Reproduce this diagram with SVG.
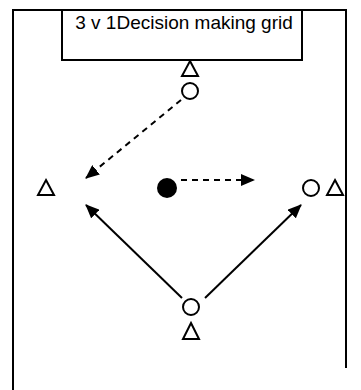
<svg xmlns="http://www.w3.org/2000/svg" width="361" height="390" viewBox="0 0 361 390">
<defs>
<style>
.ln{stroke:#000;stroke-width:2;fill:none}
.sym{stroke:#000;stroke-width:2;fill:#fff}
.dash{stroke-dasharray:6,5}
.t{font-family:"Liberation Sans",Arial,sans-serif;font-size:19px;fill:#000}
</style>
<marker id="ah" viewBox="0 0 14 12" refX="13" refY="6" markerWidth="7" markerHeight="6" orient="auto" markerUnits="strokeWidth">
<path d="M0,0 L14,6 L0,12 Z" fill="#000"/>
</marker>
</defs>
<rect width="361" height="390" fill="#fff"/>
<g id="frame">
<path class="ln" d="M13,390 V10 H346 V368"/>
</g>
<g id="header">
<rect x="62" y="10" width="240" height="50" class="sym"/>
<text class="t" x="184" y="29" text-anchor="middle">3 v 1Decision making grid</text>
</g>
<g id="connectors">
<line class="ln dash" x1="181" y1="100" x2="86" y2="178" marker-end="url(#ah)"/>
<line class="ln dash" x1="181" y1="180" x2="254" y2="180" marker-end="url(#ah)"/>
<line class="ln" x1="182" y1="298" x2="86" y2="205" marker-end="url(#ah)"/>
<line class="ln" x1="205" y1="298" x2="301" y2="205" marker-end="url(#ah)"/>
</g>
<g id="top-triangle"><path class="sym" d="M190,61 L198,76 L182,76 Z"/></g>
<g id="top-circle"><circle class="sym" cx="190" cy="91" r="8"/></g>
<g id="left-triangle"><path class="sym" d="M46,180 L54,195 L38,195 Z"/></g>
<g id="ball"><circle cx="167" cy="188" r="10" fill="#000"/></g>
<g id="right-circle"><circle class="sym" cx="311" cy="188" r="8"/></g>
<g id="right-triangle"><path class="sym" d="M335,180 L343,195 L327,195 Z"/></g>
<g id="bottom-circle"><circle class="sym" cx="191" cy="307" r="8"/></g>
<g id="bottom-triangle"><path class="sym" d="M191,323 L199,339 L183,339 Z"/></g>
</svg>
